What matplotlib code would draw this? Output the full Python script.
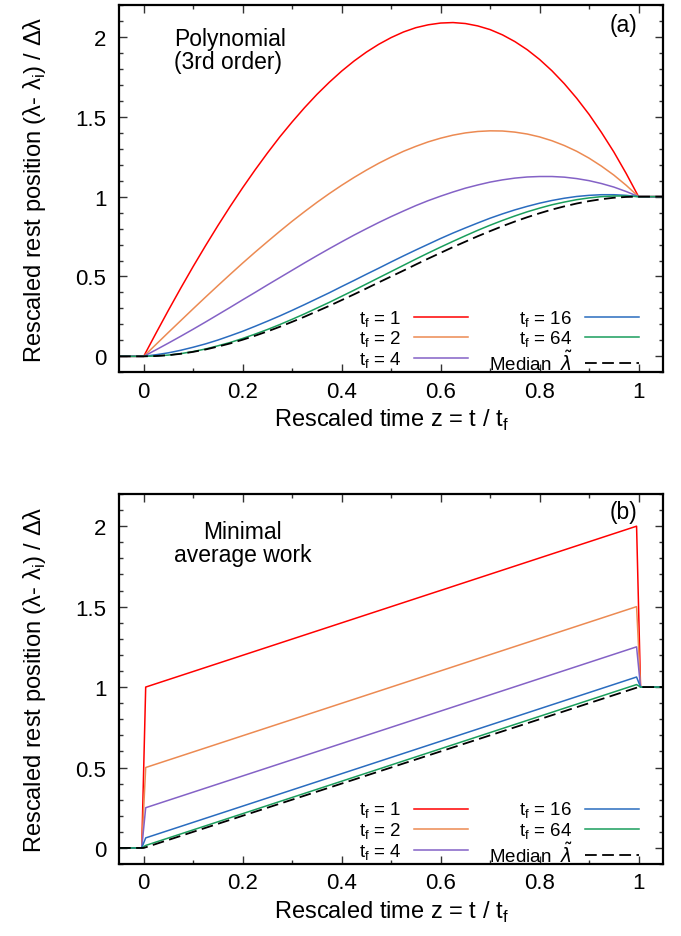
import numpy as np
import matplotlib
matplotlib.use('Agg')
import matplotlib.pyplot as plt
from matplotlib.ticker import MultipleLocator, FormatStrFormatter

plt.rcParams['font.family'] = ['Liberation Sans', 'DejaVu Sans']
plt.rcParams['mathtext.fontset'] = 'dejavusans'

# ---- datos ----
# panel (a): protocolos polinomiales de 3er orden, muestreados cada 0.025 en z
z_a = [0.000, 0.025, 0.050, 0.075, 0.100, 0.125, 0.150, 0.175, 0.200, 0.225,
       0.250, 0.275, 0.300, 0.325, 0.350, 0.375, 0.400, 0.425, 0.450, 0.475,
       0.500, 0.525, 0.550, 0.575, 0.600, 0.625, 0.650, 0.675, 0.700, 0.725,
       0.750, 0.775, 0.800, 0.825, 0.850, 0.875, 0.900, 0.925, 0.950, 0.975, 1.000]
poly_tf1 = [0.000, 0.146, 0.289, 0.428, 0.563, 0.693, 0.819, 0.940, 1.056, 1.167,
            1.273, 1.374, 1.468, 1.557, 1.640, 1.716, 1.786, 1.849, 1.905, 1.954,
            1.996, 2.031, 2.058, 2.076, 2.087, 2.090, 2.084, 2.069, 2.046, 2.013,
            1.971, 1.920, 1.859, 1.788, 1.707, 1.616, 1.515, 1.402, 1.280, 1.145, 1.000]
poly_tf2 = [0.000, 0.075, 0.150, 0.224, 0.298, 0.371, 0.443, 0.514, 0.584, 0.652,
            0.718, 0.783, 0.846, 0.906, 0.964, 1.019, 1.071, 1.120, 1.166, 1.209,
            1.248, 1.284, 1.315, 1.343, 1.366, 1.385, 1.399, 1.408, 1.412, 1.411,
            1.404, 1.392, 1.374, 1.350, 1.320, 1.284, 1.241, 1.191, 1.135, 1.071, 1.000]
poly_tf4 = [0.000, 0.041, 0.083, 0.126, 0.170, 0.215, 0.261, 0.307, 0.354, 0.400,
            0.447, 0.493, 0.539, 0.585, 0.630, 0.674, 0.717, 0.759, 0.799, 0.838,
            0.875, 0.910, 0.944, 0.975, 1.003, 1.029, 1.053, 1.073, 1.091, 1.105,
            1.116, 1.123, 1.126, 1.126, 1.122, 1.113, 1.100, 1.082, 1.060, 1.032, 1.000]
poly_tf16 = [0.000, 0.010, 0.022, 0.038, 0.057, 0.078, 0.102, 0.129, 0.157, 0.188,
             0.220, 0.253, 0.288, 0.324, 0.361, 0.398, 0.437, 0.475, 0.514, 0.552,
             0.591, 0.629, 0.666, 0.702, 0.738, 0.772, 0.804, 0.835, 0.865, 0.892,
             0.917, 0.939, 0.959, 0.976, 0.990, 1.001, 1.008, 1.012, 1.012, 1.008, 1.000]
poly_tf64 = [0.000, 0.002, 0.008, 0.017, 0.030, 0.046, 0.066, 0.087, 0.112, 0.139,
             0.168, 0.199, 0.232, 0.266, 0.302, 0.338, 0.376, 0.414, 0.453, 0.492,
             0.531, 0.570, 0.609, 0.647, 0.684, 0.720, 0.755, 0.789, 0.821, 0.851,
             0.879, 0.905, 0.928, 0.949, 0.966, 0.981, 0.992, 1.000, 1.004, 1.004, 1.000]
poly_median = [0.000, 0.002, 0.007, 0.016, 0.028, 0.043, 0.061, 0.081, 0.104, 0.129,
               0.156, 0.185, 0.216, 0.248, 0.282, 0.316, 0.352, 0.388, 0.425, 0.463,
               0.500, 0.537, 0.575, 0.612, 0.648, 0.684, 0.718, 0.752, 0.784, 0.815,
               0.844, 0.871, 0.896, 0.919, 0.939, 0.957, 0.972, 0.984, 0.993, 0.998, 1.000]

# panel (b): trabajo medio minimo (salto inicial, rampa lineal, salto final)
z_b = [-0.05, -0.004, 0.004, 0.996, 1.004, 1.05]
work_tf1 = [0, 0, 1.000, 2.000, 1, 1]
work_tf2 = [0, 0, 0.500, 1.500, 1, 1]
work_tf4 = [0, 0, 0.250, 1.250, 1, 1]
work_tf16 = [0, 0, 0.0625, 1.0625, 1, 1]
work_tf64 = [0, 0, 0.0156, 1.0156, 1, 1]
z_med_b = [-0.05, 0.0, 1.0, 1.05]
work_median = [0, 0, 1, 1]

labels = ['t$_\\mathregular{f}$ = 1', 't$_\\mathregular{f}$ = 2', 't$_\\mathregular{f}$ = 4',
          't$_\\mathregular{f}$ = 16', 't$_\\mathregular{f}$ = 64']
median_label = r'Median  $\tilde{\lambda}$'
colors = ['#ff0000', '#ec8a52', '#8462c6', '#2a6cbf', '#1a9e5c']

# tramos planos antes de z=0 y despues de z=1 en el panel (a)
z_a_full = [-0.05] + z_a + [1.05]


def pad(vals):
    return [0.0] + vals + [1.0]


fig = plt.figure(figsize=(6.81, 9.37), dpi=100)
ax1 = fig.add_axes([0.1747, 0.6016, 0.7993, 0.392])
ax2 = fig.add_axes([0.1747, 0.0768, 0.7993, 0.3949])

series_a = [poly_tf1, poly_tf2, poly_tf4, poly_tf16, poly_tf64]
series_b = [work_tf1, work_tf2, work_tf4, work_tf16, work_tf64]

for s, c, l in zip(series_a, colors, labels):
    ax1.plot(z_a_full, pad(s), color=c, lw=1.1, label=l)
ax1.plot(z_a_full, pad(poly_median), color='black', lw=1.3, ls=(0, (6.5, 3)),
         label=median_label)

for s, c, l in zip(series_b, colors, labels):
    ax2.plot(z_b, s, color=c, lw=1.1, label=l)
ax2.plot(z_med_b, work_median, color='black', lw=1.3, ls=(0, (6.5, 3)),
         label=median_label)

for ax in (ax1, ax2):
    ax.set_xlim(-0.05, 1.05)
    ax.set_ylim(-0.1, 2.2)
    ax.xaxis.set_major_locator(MultipleLocator(0.2))
    ax.xaxis.set_minor_locator(MultipleLocator(0.1))
    ax.yaxis.set_major_locator(MultipleLocator(0.5))
    ax.yaxis.set_minor_locator(MultipleLocator(0.1))
    ax.xaxis.set_major_formatter(FormatStrFormatter('%g'))
    ax.yaxis.set_major_formatter(FormatStrFormatter('%g'))
    ax.tick_params(which='both', direction='in', top=True, right=True,
                   labelsize=16, width=1.0, color='#333333')
    ax.tick_params(which='major', length=6)
    ax.tick_params(which='minor', length=3)
    ax.tick_params(axis='x', which='major', pad=6)
    ax.tick_params(axis='y', which='major', pad=9)
    for sp in ax.spines.values():
        sp.set_linewidth(1.6)
    ax.set_xlabel('Rescaled time z = t / t$_\\mathregular{f}$', fontsize=17, labelpad=4)
    ax.set_ylabel('Rescaled rest position (λ- λ$_\\mathregular{i}$) / Δλ', fontsize=17,
                  labelpad=20)
    ax.legend(loc='lower right', bbox_to_anchor=(0.955, -0.004), ncol=2, frameon=False,
              markerfirst=False, fontsize=13.5, handlelength=2.85, handletextpad=0.7,
              columnspacing=1.1, labelspacing=0.02, borderpad=0, borderaxespad=0)

ax1.text(0.062, 2.06, 'Polynomial\n(3rd order)', fontsize=16.5, ha='left', va='top',
         linespacing=1.0)
ax1.text(0.997, 2.08, '(a)', fontsize=16.5, ha='right', va='center')
ax2.text(0.2, 2.04, 'Minimal\naverage work', fontsize=16.5, ha='center', va='top',
         linespacing=1.0)
ax2.text(0.997, 2.09, '(b)', fontsize=16.5, ha='right', va='center')

fig.savefig('out.png', dpi=100)
